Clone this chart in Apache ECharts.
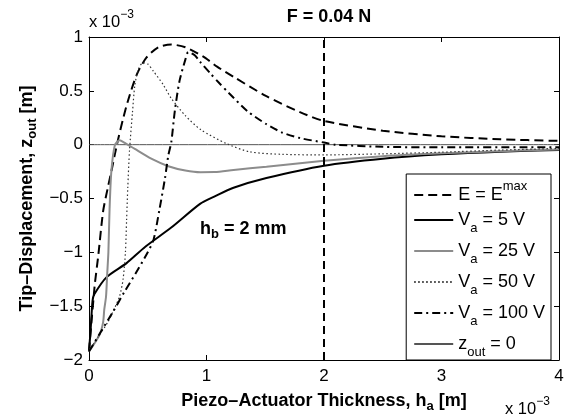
<!DOCTYPE html>
<html><head><meta charset="utf-8">
<script src="https://cdn.jsdelivr.net/npm/echarts@6/dist/echarts.min.js"></script>
<style>html,body{margin:0;padding:0;background:#fff}#c{width:577px;height:418px}</style>
</head><body><div id="c"></div>
<script>
// Piezo-actuator thickness h_a and tip displacement z_out, both in 1e-3 m
const hEmax = [0, 0.02, 0.04, 0.05, 0.08, 0.12, 0.16, 0.19, 0.22, 0.25, 0.29, 0.335, 0.41, 0.49, 0.59, 0.70, 0.82, 0.97, 1.09, 1.23, 1.51, 1.8, 2.0, 2.5, 3.0, 3.5, 4.0];
const zEmax = [-1.92, -1.66, -1.41, -1.29, -1.02, -0.62, -0.40, -0.25, -0.09, 0.06, 0.24, 0.42, 0.66, 0.81, 0.905, 0.93, 0.905, 0.82, 0.725, 0.63, 0.45, 0.30, 0.22, 0.13, 0.078, 0.05, 0.035];

const hV5 = [0, 0.015, 0.03, 0.045, 0.15, 0.32, 0.477, 0.70, 0.945, 1.07, 1.23, 1.51, 2.0, 2.5, 3.0, 3.5, 4.0];
const zV5 = [-1.92, -1.7, -1.45, -1.39, -1.23, -1.10, -0.95, -0.77, -0.55, -0.48, -0.40, -0.31, -0.195, -0.13, -0.09, -0.065, -0.05];

const hV25 = [0, 0.088, 0.12, 0.13, 0.145, 0.155, 0.165, 0.175, 0.19, 0.22, 0.26, 0.30, 0.39, 0.53, 0.675, 0.82, 0.95, 1.07, 1.23, 1.51, 2.0, 2.5, 3.0, 3.5, 4.0];
const zV25 = [-1.92, -1.77, -1.65, -1.53, -1.41, -1.2, -1.0, -0.6, -0.25, -0.005, 0.04, 0.02, -0.04, -0.13, -0.20, -0.24, -0.256, -0.255, -0.235, -0.205, -0.15, -0.107, -0.08, -0.06, -0.045];

const hV50 = [0, 0.08, 0.16, 0.2, 0.26, 0.29, 0.31, 0.32, 0.33, 0.345, 0.37, 0.39, 0.42, 0.46, 0.5, 0.55, 0.63, 0.70, 0.82, 0.95, 1.17, 1.37, 1.65, 2.0, 2.5, 3.0, 3.5, 4.0];
const zV50 = [-1.92, -1.78, -1.65, -1.56, -1.41, -1.25, -1.0, -0.7, -0.4, -0.05, 0.3, 0.55, 0.70, 0.76, 0.75, 0.68, 0.56, 0.43, 0.27, 0.14, 0.01, -0.067, -0.09, -0.095, -0.085, -0.07, -0.05, -0.035];

const hV100 = [0, 0.1, 0.2, 0.3, 0.4, 0.5, 0.55, 0.6, 0.647, 0.675, 0.70, 0.73, 0.77, 0.82, 0.845, 0.9, 0.945, 1.03, 1.11, 1.19, 1.35, 1.51, 1.65, 1.8, 2.0, 2.1, 2.5, 3.0, 4.0];
const zV100 = [-1.92, -1.74, -1.56, -1.37, -1.19, -1.0, -0.88, -0.6, -0.31, -0.10, 0.02, 0.31, 0.59, 0.79, 0.86, 0.83, 0.77, 0.665, 0.57, 0.48, 0.31, 0.19, 0.11, 0.06, 0.02, 0.0, -0.02, -0.025, -0.025];

const hZero = [0, 4];
const zZero = [0, 0];

const hBoundary = [2, 2];
const zBoundary = [-2, 1];

const xTicks = [0, 1, 2, 3, 4];
const yTicks = [-2, -1.5, -1, -0.5, 0, 0.5, 1];

const seriesNames = ['E = Emax', 'Va = 5 V', 'Va = 25 V', 'Va = 50 V', 'Va = 100 V', 'zout = 0'];
const legendRich = {
  'E = Emax': '{t|E = E}{sup|max}',
  'Va = 5 V': '{t|V}{sub|a}{t| = 5 V}',
  'Va = 25 V': '{t|V}{sub|a}{t| = 25 V}',
  'Va = 50 V': '{t|V}{sub|a}{t| = 50 V}',
  'Va = 100 V': '{t|V}{sub|a}{t| = 100 V}',
  'zout = 0': '{t|z}{sub|out}{t| = 0}'
};

const FONT = 'Liberation Sans, Arial, Helvetica, sans-serif';
const pair = (xs, ys) => xs.map((x, i) => [x, ys[i]]);
const minus = v => String(v).replace('-', '\u2212');

function line(name, xs, ys, color, width, type, z) {
  return {
    name, type: 'line', data: pair(xs, ys), symbol: 'none', smooth: 0.25,
    lineStyle: { color, width, type, cap: 'butt' }, itemStyle: { color },
    z: z || 2, silent: true, animation: false
  };
}

const boldRich = {
  b: { fontFamily: FONT, fontWeight: 'bold', fontSize: 18, color: '#000', lineHeight: 24, verticalAlign: 'middle' },
  bs: { fontFamily: FONT, fontWeight: 'bold', fontSize: 13, color: '#000', lineHeight: 24, verticalAlign: 'bottom' }
};
const exponentRich = {
  t: { fontFamily: FONT, fontSize: 16.5, fill: '#000', color: '#000', lineHeight: 22, verticalAlign: 'bottom' },
  s: { fontFamily: FONT, fontSize: 12, fill: '#000', color: '#000', lineHeight: 22, verticalAlign: 'top' }
};
const frameAxis = { onZero: false, lineStyle: { color: '#000', width: 1 } };
const frameTick = { inside: true, length: 5, lineStyle: { color: '#000' } };

const chart = echarts.init(document.getElementById('c'), null, { renderer: 'canvas' });
chart.setOption({
  backgroundColor: '#fff',
  animation: false,
  textStyle: { fontFamily: FONT },
  title: {
    text: 'F = 0.04 N', left: 324, top: 3, textAlign: 'center',
    textStyle: { fontFamily: FONT, fontWeight: 'bold', fontSize: 18, color: '#000' }
  },
  grid: { left: 89, right: 18, top: 37, bottom: 53, containLabel: false },
  xAxis: [{
    type: 'value', min: 0, max: 4, interval: 1, position: 'bottom',
    name: '{b|Piezo\u2013Actuator Thickness, h}{bs|a}{b| [m]}',
    nameLocation: 'middle', nameGap: 29,
    nameTextStyle: { rich: boldRich },
    axisLine: frameAxis, axisTick: frameTick,
    axisLabel: { fontSize: 17, color: '#000', margin: 8, formatter: v => xTicks.includes(v) ? minus(v) : '' },
    splitLine: { show: false }
  }, {
    type: 'value', min: 0, max: 4, interval: 1, position: 'top',
    axisLine: frameAxis, axisTick: frameTick,
    axisLabel: { show: false }, splitLine: { show: false }
  }],
  yAxis: [{
    type: 'value', min: -2, max: 1, interval: 0.5, position: 'left',
    name: '{b|Tip\u2013Displacement, z}{bs|out}{b| [m]}',
    nameLocation: 'middle', nameGap: 49,
    nameTextStyle: { rich: boldRich },
    axisLine: frameAxis, axisTick: frameTick,
    axisLabel: { fontSize: 17, color: '#000', margin: 6, formatter: v => yTicks.includes(v) ? minus(v) : '' },
    splitLine: { show: false }
  }, {
    type: 'value', min: -2, max: 1, interval: 0.5, position: 'right',
    axisLine: frameAxis, axisTick: frameTick,
    axisLabel: { show: false }, splitLine: { show: false }
  }],
  legend: {
    data: seriesNames, orient: 'vertical', right: 26, top: 174,
    itemWidth: 39, itemHeight: 14, itemGap: 7,
    padding: [6, 6, 1, 7],
    backgroundColor: '#fff', borderColor: '#000', borderWidth: 1, borderRadius: 0,
    selectedMode: false,
    itemStyle: { opacity: 0 },
    formatter: n => legendRich[n],
    textStyle: { rich: {
      t: { fontFamily: FONT, fontSize: 18, color: '#000', lineHeight: 30, verticalAlign: 'middle' },
      sub: { fontFamily: FONT, fontSize: 13, color: '#000', lineHeight: 30, verticalAlign: 'bottom' },
      sup: { fontFamily: FONT, fontSize: 13, color: '#000', lineHeight: 30, verticalAlign: 'top' }
    } }
  },
  graphic: [
    { type: 'text', left: 89, top: 9, style: { text: '{t|x 10}{s|\u22123}', rich: exponentRich } },
    { type: 'text', left: 505, top: 396, style: { text: '{t|x 10}{s|\u22123}', rich: exponentRich } }
  ],
  series: [
    line('zout = 0', hZero, zZero, '#555', 1, 'solid', 1),
    line('E = Emax', hEmax, zEmax, '#000', 2, [9, 5]),
    line('Va = 5 V', hV5, zV5, '#000', 2, 'solid'),
    line('Va = 25 V', hV25, zV25, '#8c8c8c', 2, 'solid'),
    line('Va = 50 V', hV50, zV50, '#333', 1.2, [1.5, 2.5]),
    line('Va = 100 V', hV100, zV100, '#000', 2, [8, 4, 2, 4]),
    Object.assign(line('boundary', hBoundary, zBoundary, '#000', 2, [8, 5], 3), { smooth: false }),
    {
      name: 'thickness note', type: 'scatter', symbolSize: 0, silent: true,
      itemStyle: { color: '#000', opacity: 1 },
      data: [[0.945, -0.78]],
      label: {
        show: true, position: 'right', distance: 0, color: '#000', opacity: 1,
        formatter: '{b|h}{bs|b}{b| = 2 mm}',
        rich: boldRich
      }
    }
  ]
});
</script></body></html>
